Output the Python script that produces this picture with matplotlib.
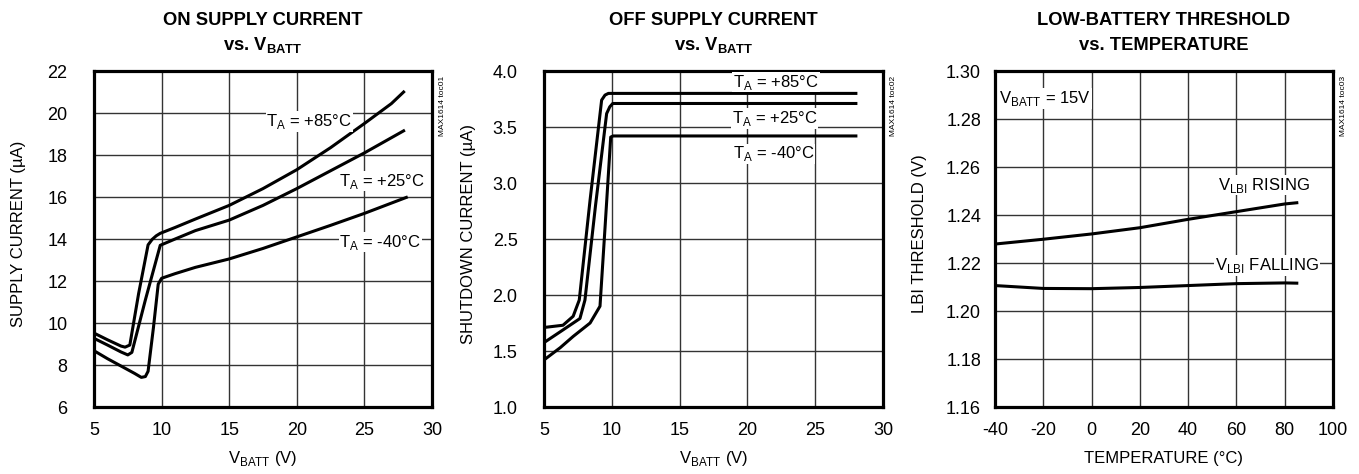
import matplotlib
matplotlib.use("Agg")
import matplotlib.pyplot as plt

plt.rcParams['font.family'] = ['Liberation Sans Narrow', 'Liberation Sans', 'DejaVu Sans']
plt.rcParams['axes.unicode_minus'] = False

# ON supply current vs VBATT
on_v85 = [5.0, 6.0, 7.0, 7.3, 7.65, 8.3, 9.0, 9.3, 9.6, 9.9, 11.0, 12.5, 15.0, 17.5, 20.0, 22.5, 25.0, 27.0, 27.9]
on_i85 = [9.52, 9.2, 8.9, 8.85, 8.95, 11.4, 13.72, 13.98, 14.15, 14.27, 14.55, 14.95, 15.6, 16.4, 17.3, 18.35, 19.5, 20.45, 21.0]
on_v25 = [5.0, 6.0, 7.0, 7.5, 7.8, 8.8, 9.9, 11.0, 12.5, 15.0, 17.5, 20.0, 22.5, 25.0, 27.9]
on_i25 = [9.27, 8.95, 8.62, 8.48, 8.6, 11.1, 13.7, 14.0, 14.4, 14.9, 15.6, 16.4, 17.25, 18.1, 19.15]
on_vm40 = [5.0, 6.0, 7.0, 8.0, 8.5, 8.8, 9.0, 9.4, 9.75, 10.0, 11.0, 12.5, 15.0, 17.5, 20.0, 22.5, 25.0, 28.1]
on_im40 = [8.68, 8.3, 7.95, 7.6, 7.41, 7.45, 7.7, 9.8, 11.85, 12.13, 12.35, 12.65, 13.05, 13.55, 14.1, 14.65, 15.22, 15.98]

# OFF supply current vs VBATT
off_v85 = [5.0, 6.4, 7.15, 7.6, 8.4, 9.25, 9.5, 9.75, 28.0]
off_i85 = [1.71, 1.73, 1.81, 1.955, 2.85, 3.74, 3.785, 3.80, 3.80]
off_v25 = [5.0, 6.3, 7.65, 8.02, 8.8, 9.62, 9.85, 10.07, 28.0]
off_i25 = [1.575, 1.68, 1.79, 1.955, 2.8, 3.62, 3.68, 3.71, 3.71]
off_vm40 = [5.0, 6.2, 7.15, 8.4, 9.13, 9.5, 9.92, 10.1, 28.0]
off_im40 = [1.42, 1.53, 1.63, 1.75, 1.90, 2.6, 3.41, 3.42, 3.42]

# LBI threshold vs temperature
temp_c = [-40, -20, 0, 20, 40, 60, 80, 85]
lbi_rising = [1.2279, 1.2299, 1.2321, 1.2347, 1.2382, 1.2414, 1.2446, 1.2451]
lbi_falling = [1.2106, 1.2094, 1.2093, 1.2098, 1.2106, 1.2114, 1.2117, 1.2116]

W, H = 1359, 474
fig = plt.figure(figsize=(W / 100, H / 100), dpi=100)

def make_axes(left_px, right_px):
    return fig.add_axes([left_px / W, (H - 407) / H, (right_px - left_px) / W, 336 / H])

ax1 = make_axes(94, 432)
ax2 = make_axes(544, 883)
ax3 = make_axes(995, 1333)

FS = 12
label_box = dict(facecolor='white', edgecolor='none', pad=0.5)

def style(ax, xticks, yticks, yfmt, ypad, code):
    ax.set_xlim(xticks[0], xticks[-1])
    ax.set_ylim(yticks[0], yticks[-1])
    ax.set_xticks(xticks)
    ax.set_yticks(yticks)
    ax.set_yticklabels([yfmt.format(t) for t in yticks])
    ax.grid(True, color='#333333', lw=1.0)
    ax.set_axisbelow(True)
    for s in ax.spines.values():
        s.set_linewidth(2.3)
    ax.tick_params(length=0, labelsize=13)
    ax.tick_params(axis='y', pad=ypad)
    ax.tick_params(axis='x', pad=11)
    ax.text(1.03, 0.985, code, transform=ax.transAxes, rotation=90,
            fontsize=6, ha='center', va='top')

def titles(ax, line1, line2):
    ax.text(0.5, 1.137, line1, transform=ax.transAxes, ha='center', va='baseline',
            fontsize=13.2, fontweight='bold')
    ax.text(0.5, 1.0625, line2, transform=ax.transAxes, ha='center', va='baseline',
            fontsize=13.2, fontweight='bold')

# panel 1
ax1.plot(on_v85, on_i85, color='black', lw=2.2, solid_joinstyle='round')
ax1.plot(on_v25, on_i25, color='black', lw=2.2, solid_joinstyle='round')
ax1.plot(on_vm40, on_im40, color='black', lw=2.2, solid_joinstyle='round')
style(ax1, [5, 10, 15, 20, 25, 30], list(range(6, 23, 2)), "{:d}", 19, "MAX1614 toc01")
titles(ax1, "ON SUPPLY CURRENT", r"vs. V$_\mathregular{BATT}$")
ax1.text(17.75, 19.6, r"T$_\mathregular{A}$ = +85°C", fontsize=FS, va='center', bbox=label_box)
ax1.text(23.15, 16.75, r"T$_\mathregular{A}$ = +25°C", fontsize=FS, va='center', bbox=label_box)
ax1.text(23.15, 13.85, r"T$_\mathregular{A}$ = -40°C", fontsize=FS, va='center', bbox=label_box)
ax1.set_ylabel(u"SUPPLY CURRENT (\u00b5A)", fontsize=FS, va='center')
ax1.set_xlabel(r"V$_\mathregular{BATT}$ (V)", fontsize=FS, va='center')

# panel 2
ax2.plot(off_v85, off_i85, color='black', lw=2.2, solid_joinstyle='round')
ax2.plot(off_v25, off_i25, color='black', lw=2.2, solid_joinstyle='round')
ax2.plot(off_vm40, off_im40, color='black', lw=2.2, solid_joinstyle='round')
style(ax2, [5, 10, 15, 20, 25, 30], [1.0, 1.5, 2.0, 2.5, 3.0, 3.5, 4.0], "{:.1f}", 19, "MAX1614 toc02")
titles(ax2, "OFF SUPPLY CURRENT", r"vs. V$_\mathregular{BATT}$")
ax2.text(18.95, 3.90, r"T$_\mathregular{A}$ = +85°C", fontsize=FS, va='center', bbox=label_box)
ax2.text(18.85, 3.575, r"T$_\mathregular{A}$ = +25°C", fontsize=FS, va='center', bbox=label_box)
ax2.text(18.95, 3.26, r"T$_\mathregular{A}$ = -40°C", fontsize=FS, va='center', bbox=label_box)
ax2.set_ylabel(u"SHUTDOWN CURRENT (\u00b5A)", fontsize=FS, va='center')
ax2.set_xlabel(r"V$_\mathregular{BATT}$ (V)", fontsize=FS, va='center')

# panel 3
ax3.plot(temp_c, lbi_rising, color='black', lw=2.2)
ax3.plot(temp_c, lbi_falling, color='black', lw=2.2)
style(ax3, [-40, -20, 0, 20, 40, 60, 80, 100],
      [1.16, 1.18, 1.20, 1.22, 1.24, 1.26, 1.28, 1.30], "{:.2f}", 10, "MAX1614 toc03")
titles(ax3, "LOW-BATTERY THRESHOLD", "vs. TEMPERATURE")
ax3.text(-38.2, 1.2885, r"V$_\mathregular{BATT}$ = 15V", fontsize=FS, va='center', bbox=label_box)
ax3.text(52.5, 1.2525, r"V$_\mathregular{LBI}$ RISING", fontsize=FS, va='center', bbox=label_box)
ax3.text(51.1, 1.2189, r"V$_\mathregular{LBI}$ FALLING", fontsize=FS, va='center', bbox=label_box)
ax3.set_ylabel("LBI THRESHOLD (V)", fontsize=FS, va='center')
ax3.set_xlabel(u"TEMPERATURE (\u00b0C)", fontsize=FS, va='center')

for ax in (ax1, ax2, ax3):
    ax.yaxis.set_label_coords(-0.222, 0.515)
    ax.xaxis.set_label_coords(0.5, -0.152)

fig.savefig("out.png", dpi=100)
